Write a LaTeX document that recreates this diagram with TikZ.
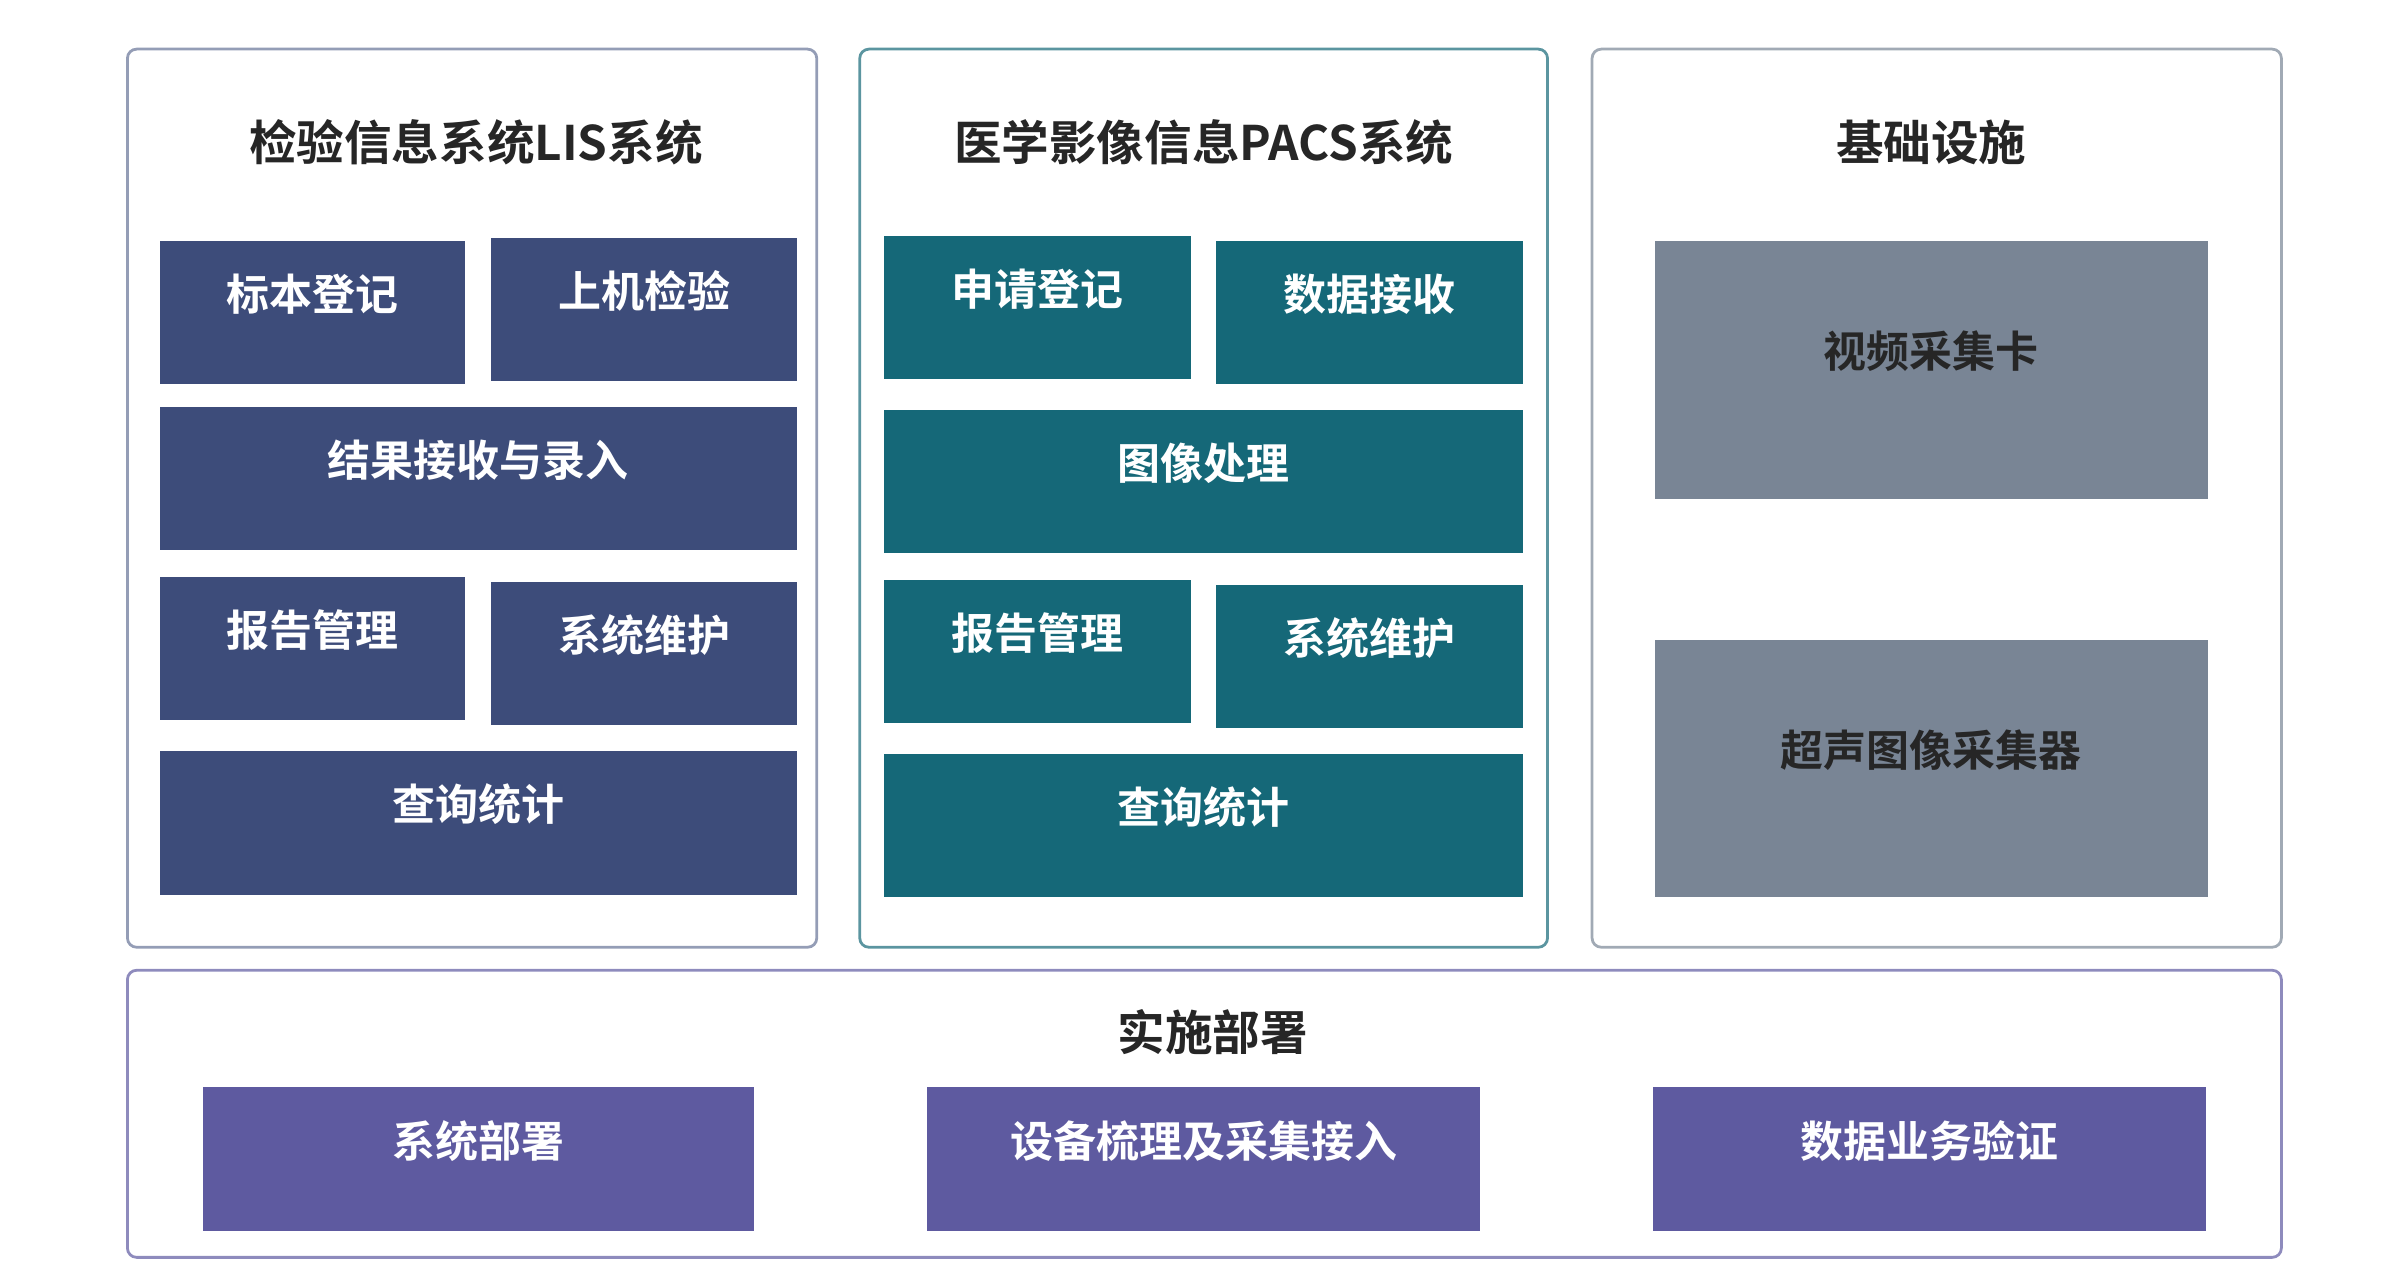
\documentclass[tikz,border=0pt]{standalone}
\usepackage{fontspec}
\setmainfont{Noto Sans CJK SC}[BoldFont={Noto Sans CJK SC Bold}]
\usetikzlibrary{fit}
\definecolor{lisc}{HTML}{3D4C7A}
\definecolor{pacsc}{HTML}{156878}
\definecolor{grayc}{HTML}{798595}
\definecolor{purc}{HTML}{5E5AA0}
\begin{document}
\begin{tikzpicture}[x=0.5pt,y=-0.5pt,
  box/.style={inner sep=0pt,text=white,font=\bfseries\fontsize{14}{16}\selectfont},
  panel/.style={inner sep=0pt,draw,line width=0.9pt,rounded corners=3pt,fill=white},
  ttl/.style={font=\bfseries\fontsize{15.5}{18}\selectfont,text=black!85}]
\useasboundingbox (0,0) rectangle (1560,838);
\node[panel,draw=lisc!55,fit={(83,32)(532,617)}] (p1) {};
\node[panel,draw=pacsc!70,fit={(560,32)(1008,617)}] (p2) {};
\node[panel,draw=grayc!70,fit={(1037,32)(1486,617)}] (p3) {};
\node[panel,draw=purc!70,fit={(83,632)(1486,819)}] (p4) {};
\node[ttl] (t1) at (310,93) {检验信息系统LIS系统};
\node[ttl] (t2) at (784,93) {医学影像信息PACS系统};
\node[ttl] (t3) at (1258,93) {基础设施};
\node[ttl] (t4) at (790,672) {实施部署};
% LIS
\node[box,fill=lisc,fit={(104,157)(303,250)}] (a1) {标本登记};
\node[box,fill=lisc,fit={(320,155)(519,248)}] (a2) {上机检验};
\node[box,fill=lisc,fit={(104,265)(519,358)}] (a3) {结果接收与录入};
\node[box,fill=lisc,fit={(104,376)(303,469)}] (a4) {报告管理};
\node[box,fill=lisc,fit={(320,379)(519,472)}] (a5) {系统维护};
\node[box,fill=lisc,fit={(104,489)(519,583)}] (a6) {查询统计};
% PACS
\node[box,fill=pacsc,fit={(576,154)(776,247)}] (b1) {申请登记};
\node[box,fill=pacsc,fit={(792,157)(992,250)}] (b2) {数据接收};
\node[box,fill=pacsc,fit={(576,267)(992,360)}] (b3) {图像处理};
\node[box,fill=pacsc,fit={(576,378)(776,471)}] (b4) {报告管理};
\node[box,fill=pacsc,fit={(792,381)(992,474)}] (b5) {系统维护};
\node[box,fill=pacsc,fit={(576,491)(992,584)}] (b6) {查询统计};
% infra
\node[box,text=black!85,fill=grayc,fit={(1078,157)(1438,325)}] (c1) {视频采集卡};
\node[box,text=black!85,fill=grayc,fit={(1078,417)(1438,584)}] (c2) {超声图像采集器};
% bottom
\node[box,fill=purc,fit={(132,708)(491,802)}] (d1) {系统部署};
\node[box,fill=purc,fit={(604,708)(964,802)}] (d2) {设备梳理及采集接入};
\node[box,fill=purc,fit={(1077,708)(1437,802)}] (d3) {数据业务验证};
\end{tikzpicture}
\end{document}
